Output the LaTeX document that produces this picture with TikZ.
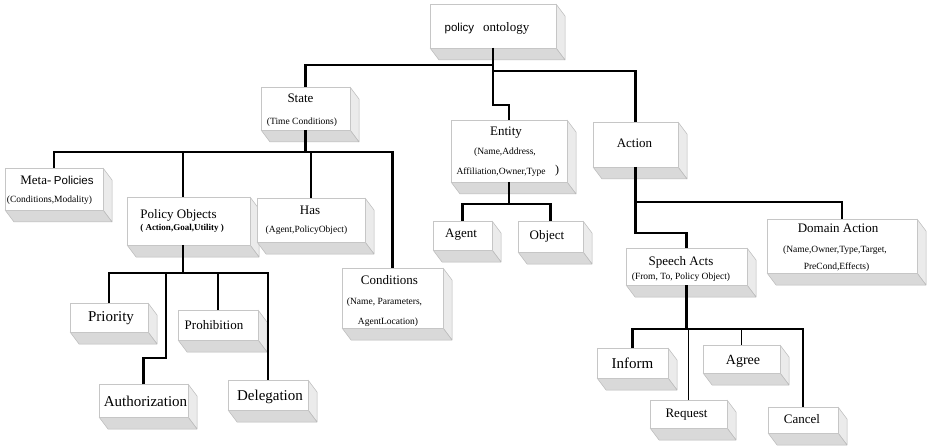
\documentclass[tikz,border=0pt]{standalone}
\usepackage{fontspec}
\setmainfont{Liberation Serif}
\newfontfamily\sansfam{Liberation Sans}
\usetikzlibrary{calc}

% depth of the extruded slabs
\def\slabdx{9}
\def\slabdy{12}

% \slab{name}{left}{top}{right}{bottom}  (y measured downward)
\newcommand{\slab}[5]{%
  \filldraw[slabside] (#4,-#3) -- (#4+\slabdx,-#3-\slabdy) -- (#4+\slabdx,-#5-\slabdy) -- (#4,-#5) -- cycle;
  \filldraw[slabbottom] (#2,-#5) -- (#4,-#5) -- (#4+\slabdx,-#5-\slabdy) -- (#2+\slabdx,-#5-\slabdy) -- cycle;
  \node[slabfront, minimum width={(#4-#2)*1pt}, minimum height={(#5-#3)*1pt}] (#1) at ({(#2+#4)/2},{-(#3+#5)/2}) {};
}

\tikzset{
  slabside/.style={fill=gray!16, draw=gray!55, line width=0.5pt, line join=round},
  slabbottom/.style={fill=gray!30, draw=gray!55, line width=0.5pt, line join=round},
  slabfront/.style={fill=white, draw=gray!45, line width=0.5pt, inner sep=0pt, outer sep=0pt},
  link/.style={draw=black, line width=2.6pt, line join=miter},
  thinlink/.style={draw=black, line width=1.4pt},
  title/.style={inner sep=0pt, font=\fontsize{13}{15}\selectfont},
  big/.style={inner sep=0pt, font=\fontsize{15}{17}\selectfont},
  attr/.style={inner sep=0pt, font=\fontsize{9.5}{11}\selectfont},
}

\begin{document}
\begin{tikzpicture}[x=1pt, y=1pt]
\useasboundingbox (0,0) rectangle (928,-446);

% ---------- slabs ----------
\slab{onto}{430}{4}{556}{48}
\slab{state}{261}{87}{350}{130}
\slab{meta}{5}{168}{103}{210}
\slab{pobj}{127}{197}{250}{245}
\slab{has}{257}{198}{365}{242}
\slab{cond}{342}{268}{443}{328}
\slab{entity}{451}{120}{567}{182}
\slab{action}{593}{122}{678}{167}
\slab{agent}{433}{221}{492}{250}
\slab{object}{518}{221}{583}{252}
\slab{speech}{626}{248}{747}{285}
\slab{domain}{767}{219}{917}{273}
\slab{prio}{70}{303}{148}{332}
\slab{prohib}{178}{310}{258}{340}
\slab{authz}{99}{384}{188}{417}
\slab{deleg}{228}{380}{308}{410}
\slab{inform}{597}{348}{668}{378}
\slab{agree}{703}{345}{780}{373}
\slab{request}{650}{400}{727}{428}
\slab{cancel}{768}{407}{838}{433}

% ---------- bus levels ----------
\coordinate (lvA) at (0,-65);
\coordinate (lvB) at (0,-71);
\coordinate (lvC) at (0,-105);
\coordinate (lvD) at (0,-152);
\coordinate (lvE) at (0,-273);
\coordinate (lvF) at (0,-204);
\coordinate (lvG) at (0,-233);
\coordinate (lvH) at (0,-202);
\coordinate (lvI) at (0,-329);
\coordinate (authjog) at (166,-358);

% ---------- connectors ----------
\draw[link] (onto.south) -- (onto.south |- lvA) -| (state.north);
\draw[link] (onto.south) -- (onto.south |- lvC) -| (entity.north);
\draw[link] (onto.south |- lvB) -| (action.north);

\draw[link] (state.south) -- (state.south |- lvD);
\draw[link] (meta.north) |- (cond.north |- lvD) -- (cond.north);
\draw[link] ([xshift=-5.5pt]pobj.north) -- ([xshift=-5.5pt]pobj.north |- lvD);
\draw[link] (has.north) -- (has.north |- lvD);

\draw[link] ([xshift=-5.5pt]pobj.south) -- ([xshift=-5.5pt]pobj.south |- lvE);
\draw[link] (prio.north) |- (deleg.north |- lvE) -- (deleg.north);
\draw[thinlink] (prohib.north) -- (prohib.north |- lvE);
\draw[link] (authz.north) |- (authjog) -- (authjog |- lvE);

\draw[link] (entity.south) -- (entity.south |- lvF);
\draw[link] (agent.north) |- (object.north |- lvF) -- (object.north);

\draw[link] (action.south) |- (speech.north |- lvG) -- (speech.north);
\draw[link] (action.south |- lvH) -| (domain.north);

\draw[link] (speech.south) -- (speech.south |- lvI);
\draw[link] (inform.north) |- (cancel.north |- lvI) -- (cancel.north);
\draw[thinlink] (agree.north) -- (agree.north |- lvI);
\draw[thinlink] (request.north) -- (request.north |- lvI);

% ---------- labels ----------
\node[inner sep=0pt] (t-onto) at (487,-28) {{\sansfam\fontsize{11.5}{13}\selectfont policy}\hspace{9pt}{\fontsize{13}{15}\selectfont ontology}};

\node[title] (t-state) at (300.5,-98) {State};
\node[attr]  (s-state) at (302,-122) {(Time Conditions)};

\node[inner sep=0pt] (t-meta) at (57,-180) {{\fontsize{13}{15}\selectfont Meta-} {\sansfam\fontsize{11.5}{13}\selectfont Policies}};
\node[attr]  (s-meta) at (49.5,-200) {(Conditions,Modality)};

\node[title] (t-pobj) at (178.5,-215) {Policy Objects};
\node[attr, font=\fontsize{9}{11}\selectfont\bfseries] (s-pobj) at (182,-228) {( Action,Goal,Utility )};

\node[title] (t-has) at (310,-210) {Has};
\node[attr]  (s-has) at (306.5,-230) {(Agent,PolicyObject)};

\node[title] (t-cond) at (389.5,-280) {Conditions};
\node[attr]  (s-cond1) at (384.5,-302) {(Name, Parameters,};
\node[attr]  (s-cond2) at (388,-322) {AgentLocation)};

\node[title] (t-entity) at (506,-133) {Entity};
\node[attr]  (s-entity1) at (505,-152) {(Name,Address,};
\node[attr]  (s-entity2) at (501,-172) {Affiliation,Owner,Type};
\node[attr, font=\fontsize{12}{14}\selectfont] (s-entity3) at (557,-171) {)};

\node[title] (t-action) at (634.5,-143) {Action};
\node[title] (t-agent) at (461,-235) {Agent};
\node[title] (t-object) at (547,-236) {Object};

\node[title] (t-speech) at (681,-262) {Speech Acts};
\node[attr]  (s-speech) at (681,-277) {(From, To, Policy Object)};

\node[title] (t-domain) at (838,-228) {Domain Action};
\node[attr]  (s-domain1) at (835,-250) {(Name,Owner,Type,Target,};
\node[attr]  (s-domain2) at (836.5,-267) {PreCond,Effects)};

\node[big]   (t-prio) at (111,-318) {Priority};
\node[title] (t-prohib) at (214,-325) {Prohibition};
\node[big]   (t-authz) at (145.5,-401) {Authorization};
\node[big]   (t-deleg) at (270,-397) {Delegation};

\node[big]   (t-inform) at (632.5,-363) {Inform};
\node[title, font=\fontsize{14}{16}\selectfont] (t-agree) at (743,-361) {Agree};
\node[title] (t-request) at (686.5,-415) {Request};
\node[title] (t-cancel) at (802,-419) {Cancel};
\end{tikzpicture}
\end{document}
